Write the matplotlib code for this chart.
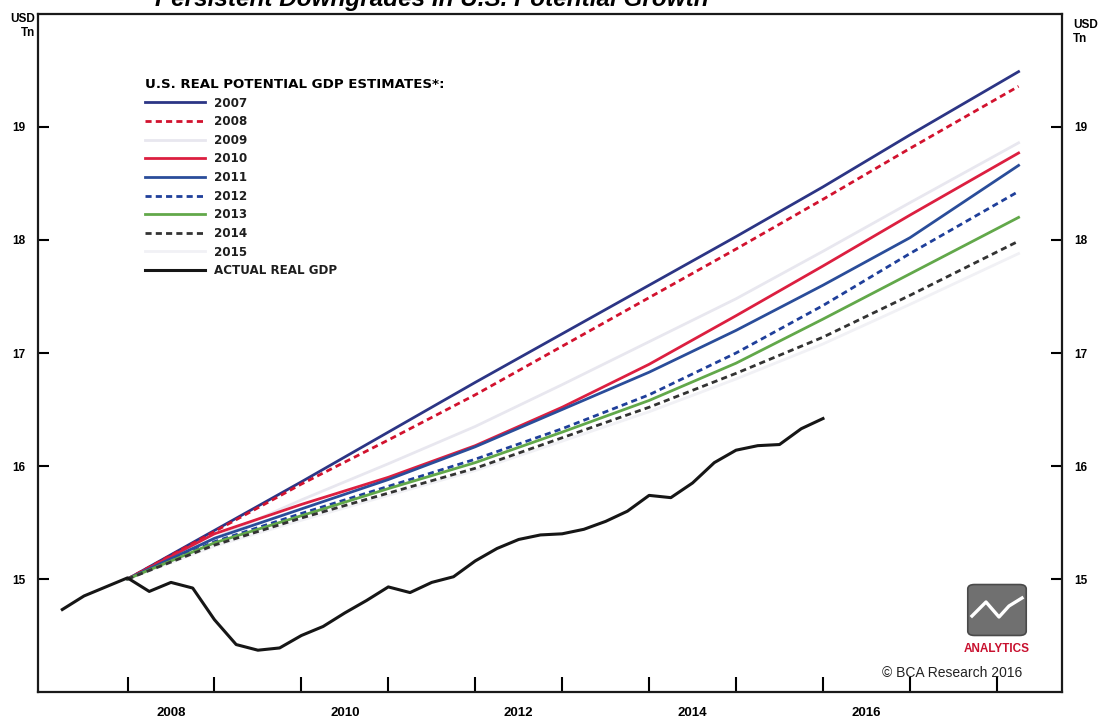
import numpy as np
import matplotlib
matplotlib.use("Agg")
import matplotlib.pyplot as plt
from matplotlib.patches import FancyBboxPatch
from matplotlib.ticker import FixedLocator, NullFormatter

plt.rcParams['font.family'] = ['Liberation Sans', 'DejaVu Sans']

# potential GDP estimates (USD Tn), one list per vintage, at these dates
est_dates = [2008, 2009, 2010, 2011, 2012, 2013, 2014, 2015, 2016, 2017, 2018.25]
est_2007 = [15.00, 15.43, 15.86, 16.30, 16.74, 17.17, 17.60, 18.03, 18.47, 18.93, 19.49]
est_2008 = [15.00, 15.42, 15.84, 16.23, 16.63, 17.06, 17.49, 17.92, 18.36, 18.81, 19.36]
est_2009 = [15.00, 15.36, 15.70, 16.02, 16.35, 16.72, 17.10, 17.48, 17.90, 18.33, 18.86]
est_2010 = [15.00, 15.40, 15.66, 15.90, 16.18, 16.52, 16.90, 17.33, 17.77, 18.22, 18.77]
est_2011 = [15.00, 15.36, 15.62, 15.88, 16.17, 16.50, 16.83, 17.20, 17.60, 18.02, 18.66]
est_2012 = [15.00, 15.33, 15.58, 15.82, 16.06, 16.33, 16.63, 17.00, 17.42, 17.88, 18.43]
est_2013 = [15.00, 15.32, 15.56, 15.80, 16.03, 16.30, 16.58, 16.91, 17.30, 17.70, 18.20]
est_2014 = [15.00, 15.30, 15.54, 15.76, 15.98, 16.25, 16.52, 16.82, 17.14, 17.51, 17.99]
est_2015 = [15.00, 15.29, 15.52, 15.74, 15.96, 16.22, 16.48, 16.77, 17.08, 17.43, 17.88]

# actual real GDP, quarterly 2007Q1..2015Q4 (quarter-end dating)
gdp_dates = [2007.25 + 0.25 * i for i in range(36)]
gdp_actual = [14.73, 14.85, 14.93, 15.01, 14.89, 14.97, 14.92, 14.64,
              14.42, 14.37, 14.39, 14.50, 14.58, 14.70, 14.81, 14.93,
              14.88, 14.97, 15.02, 15.16, 15.27, 15.35, 15.39, 15.40,
              15.44, 15.51, 15.60, 15.74, 15.72, 15.85, 16.03, 16.14,
              16.18, 16.19, 16.33, 16.42]

year_ticks = list(range(2008, 2019))
year_labels = ['2008', '2010', '2012', '2014', '2016']
y_ticks = [15, 16, 17, 18, 19]

fig = plt.figure(figsize=(11.1, 7.25), dpi=100)
ax = fig.add_axes([0.0342, 0.0455, 0.9226, 0.9352])

lw = 2.0
ax.plot(est_dates, est_2015, color='#f1f1f5', lw=lw, zorder=1, label='2015')
ax.plot(est_dates, est_2009, color='#e8e7ef', lw=lw, zorder=1, label='2009')
ax.plot(est_dates, est_2007, color='#2c3585', lw=lw, zorder=3, label='2007')
ax.plot(est_dates, est_2008, color='#d2122e', lw=lw, ls=(0, (2.2, 1.5)), zorder=3, label='2008')
ax.plot(est_dates, est_2010, color='#dc1f40', lw=lw, zorder=3, label='2010')
ax.plot(est_dates, est_2011, color='#2a4d9a', lw=lw, zorder=4, label='2011')
ax.plot(est_dates, est_2012, color='#1f3f9a', lw=lw, ls=(0, (2.2, 1.5)), zorder=4, label='2012')
ax.plot(est_dates, est_2013, color='#62a84a', lw=lw, zorder=4, label='2013')
ax.plot(est_dates, est_2014, color='#333333', lw=lw, ls=(0, (2.2, 1.5)), zorder=5, label='2014')
ax.plot(gdp_dates, gdp_actual, color='#161616', lw=2.2, zorder=6, label='ACTUAL REAL GDP')

ax.set_xlim(2006.97, 2018.75)
ax.set_ylim(14, 20)

# legend in the same order as the original
h, l = ax.get_legend_handles_labels()
order = ['2007', '2008', '2009', '2010', '2011', '2012', '2013', '2014', '2015', 'ACTUAL REAL GDP']
hd = dict(zip(l, h))
leg = ax.legend([hd[k] for k in order], order, loc='upper left',
                bbox_to_anchor=(145 / 1110, 1 - 78 / 725), bbox_transform=fig.transFigure,
                frameon=False, prop={'family': 'DejaVu Sans', 'weight': 'bold', 'size': 8.6},
                title='U.S. REAL POTENTIAL GDP ESTIMATES*:',
                title_fontproperties={'family': 'DejaVu Sans', 'weight': 'bold', 'size': 9.6},
                alignment='left', handlelength=5.0, handletextpad=0.75,
                labelspacing=0.47, borderpad=0, borderaxespad=0)
for t in leg.get_texts():
    t.set_color('#1e1e1e')

# axes frame and ticks
for s in ax.spines.values():
    s.set_linewidth(1.6)
    s.set_color('#1a1a1a')

ax.yaxis.set_major_locator(FixedLocator(y_ticks))
ax.tick_params(axis='y', which='major', direction='in', length=8, width=1.5,
               left=True, right=True, labelleft=True, labelright=True,
               labelsize=8.5, pad=9)
for t in ax.get_yticklabels():
    t.set_fontweight('bold')

ax.xaxis.set_major_locator(FixedLocator(year_ticks))
ax.xaxis.set_major_formatter(NullFormatter())
ax.xaxis.set_minor_locator(FixedLocator([int(y) + 0.5 for y in year_labels]))
ax.set_xticklabels(year_labels, minor=True, fontweight='bold', fontsize=9.5)
ax.tick_params(axis='x', which='major', direction='in', length=11, width=1.5)
ax.tick_params(axis='x', which='minor', length=0, pad=11)

# units
fig.text(35 / 1110, 1 - 13 / 725, 'USD\nTn', ha='right', va='top', fontsize=8.5,
         fontweight='bold', linespacing=1.2)
fig.text(1073 / 1110, 1 - 19 / 725, 'USD\nTn', ha='left', va='top', fontsize=8.5,
         fontweight='bold', linespacing=1.2)

# title, cut off at the top edge like the scan
fig.text(432 / 1110, 1 - 6 / 725, 'Persistent Downgrades In U.S. Potential Growth',
         ha='center', va='baseline', fontsize=17.5, fontweight='bold', style='italic')

# source and logo
fig.text(1022 / 1110, 1 - 677 / 725, '\u00a9 BCA Research 2016', ha='right',
         va='baseline', fontsize=10, color='#222222')
logo = FancyBboxPatch((970 / 1110, 1 - 634 / 725), 54 / 1110, 48 / 725,
                      boxstyle='round,pad=0.002,rounding_size=0.006',
                      transform=fig.transFigure, facecolor='#707070',
                      edgecolor='#4a4a4a', lw=1.2, zorder=5)
fig.patches.append(logo)
zx = np.array([972, 986, 999, 1009, 1022]) / 1110
zy = 1 - np.array([616, 602, 617, 606, 598]) / 725
fig.lines.append(plt.Line2D(zx, zy, transform=fig.transFigure, color='white', lw=2.4, zorder=6))
fig.text(997 / 1110, 1 - 652 / 725, 'ANALYTICS', ha='center', va='baseline',
         fontsize=8.5, fontweight='bold', color='#c8102e')

fig.savefig('out.png', dpi=100)
